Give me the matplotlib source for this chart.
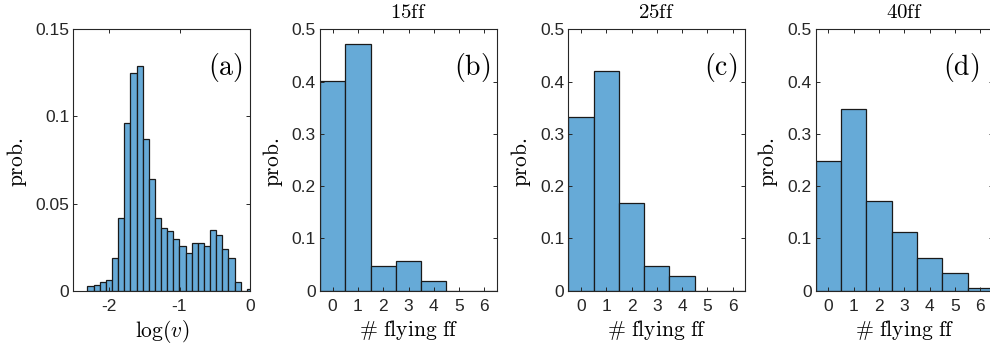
import numpy as np
import matplotlib
matplotlib.use("Agg")
import matplotlib.pyplot as plt

plt.rcParams["mathtext.fontset"] = "cm"
plt.rcParams["font.family"] = ["Liberation Sans", "DejaVu Sans"]

# ---- panel (a): histogram of log(v) ----
logv_bin_start = -2.30
logv_bin_width = 0.0866
logv_prob = [0.0025, 0.0035, 0.005, 0.006, 0.019, 0.042, 0.0965, 0.125, 0.129,
             0.087, 0.064, 0.042, 0.036, 0.034, 0.0295, 0.0255, 0.0217, 0.0274,
             0.0274, 0.0255, 0.035, 0.032, 0.024, 0.0186, 0.0052, 0.0, 0.001]

# ---- panels (b)-(d): number of flying ff ----
n_flying = [0, 1, 2, 3, 4, 5, 6]
prob_15ff = [0.402, 0.472, 0.0467, 0.057, 0.0185, 0.0, 0.0]
prob_25ff = [0.333, 0.421, 0.1675, 0.0467, 0.028, 0.0, 0.0]
prob_40ff = [0.249, 0.347, 0.171, 0.1125, 0.0627, 0.0345, 0.005]

titles = ["15ff", "25ff", "40ff"]
panel_tags = ["(a)", "(b)", "(c)", "(d)"]

bar_color = (0.4, 0.668, 0.845)
edge_color = "#1a1a1a"
axis_color = "#262626"

W, H = 990, 349
fig = plt.figure(figsize=(W / 100, H / 100), dpi=100)

lefts = [73.3, 320.0, 568.3, 815.8]
width = 177.0
top, bottom = 29.3, 290.7


def make_ax(left):
    ax = fig.add_axes([left / W, 1 - bottom / H, width / W, (bottom - top) / H])
    for s in ax.spines.values():
        s.set_color(axis_color)
        s.set_linewidth(0.8)
    ax.tick_params(direction="in", top=True, right=True, length=3, width=0.7,
                   color=axis_color, labelcolor=axis_color, labelsize=12.5)
    ax.tick_params(axis="y", pad=3)
    ax.tick_params(axis="x", pad=6)
    return ax


# panel (a)
ax = make_ax(lefts[0])
edges = logv_bin_start + logv_bin_width * np.arange(len(logv_prob))
ax.bar(edges, logv_prob, width=logv_bin_width, align="edge", color=bar_color,
       edgecolor=edge_color, linewidth=0.9)
ax.set_xlim(-2.5, 0)
ax.set_ylim(0, 0.15)
ax.set_xticks([-2, -1, 0])
ax.set_xticklabels(["-2", "-1", "0"])
ax.set_yticks([0, 0.05, 0.1, 0.15])
ax.set_yticklabels(["0", "0.05", "0.1", "0.15"])
ax.set_xlabel(r"$\log(v)$", fontsize=15.5, labelpad=3)
ax.set_ylabel(r"$\mathrm{prob.}$", fontsize=15.5)
ax.yaxis.set_label_coords(-0.25, 0.49)
ax.text(0.858, 0.853, r"$\mathrm{" + panel_tags[0] + "}$", transform=ax.transAxes,
        ha="center", va="center", fontsize=20)

# panels (b)-(d)
for i, probs in enumerate([prob_15ff, prob_25ff, prob_40ff]):
    ax = make_ax(lefts[i + 1])
    ax.bar(n_flying, probs, width=1.0, color=bar_color, edgecolor=edge_color,
           linewidth=0.9)
    ax.set_xlim(-0.5, 6.5)
    ax.set_ylim(0, 0.5)
    ax.set_xticks(n_flying)
    ax.set_yticks([0, 0.1, 0.2, 0.3, 0.4, 0.5])
    ax.set_yticklabels(["0", "0.1", "0.2", "0.3", "0.4", "0.5"])
    ax.set_xlabel(r"$\#\ \mathrm{flying\ ff}$", fontsize=15.5, labelpad=3)
    ax.set_ylabel(r"$\mathrm{prob.}$", fontsize=15.5)
    ax.yaxis.set_label_coords(-0.20, 0.49)
    ax.set_title(r"$\mathrm{" + titles[i] + "}$", fontsize=15, pad=8)
    tx = 0.858 if i < 2 else 0.82
    ax.text(tx, 0.853, r"$\mathrm{" + panel_tags[i + 1] + "}$", transform=ax.transAxes,
            ha="center", va="center", fontsize=20)

fig.savefig("out.png", dpi=100)
